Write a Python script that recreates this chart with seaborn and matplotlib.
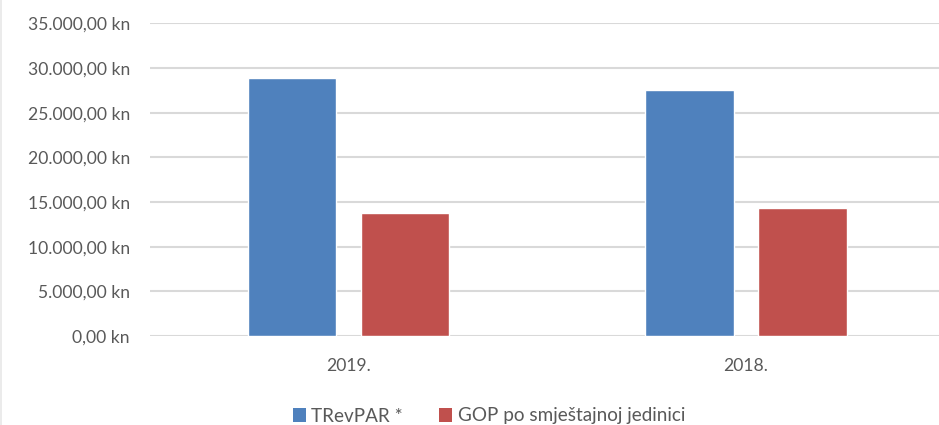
import numpy as np
import pandas as pd
import matplotlib
matplotlib.use("Agg")
import matplotlib.pyplot as plt
from matplotlib.lines import Line2D
from matplotlib.patches import Patch
import seaborn as sns

# chart data
years = ["2019.", "2018."]
series_names = ["TRevPAR *", "GOP po smještajnoj jedinici"]
trevpar = [28930, 27550]
gop = [13810, 14390]
y_ticks = [0, 5000, 10000, 15000, 20000, 25000, 30000, 35000]

colors = ["#4f81bd", "#c0504d"]
TEXT = "#595959"
GRID = "#d9d9d9"

df = pd.DataFrame({
    "year": years * 2,
    "series": [series_names[0]] * 2 + [series_names[1]] * 2,
    "value": trevpar + gop,
})


def kn(v):
    s = f"{v:,.2f}"
    s = s.replace(",", "X").replace(".", ",").replace("X", ".")
    return f"{s} kn"


sns.set_theme(style="white")
plt.rcParams["font.family"] = ["Lato", "DejaVu Sans"]

W, H = 939, 425
fig = plt.figure(figsize=(W / 100, H / 100), dpi=100)
fig.patch.set_facecolor("white")

# plot area in pixels: left 149.75, width 795 (runs slightly past right edge)
y0_px, y35_px = 336, 23.5
ax = fig.add_axes([149.75 / W, (H - y0_px) / H, 795 / W, (y0_px - y35_px) / H])

sns.barplot(
    data=df, x="year", y="value", hue="series", order=years,
    hue_order=series_names, palette=colors, width=0.5686, gap=0.22,
    saturation=1, legend=False, ax=ax,
)

ax.set_ylim(0, 35000)
ax.set_xlim(-0.5, 1.5)
ax.set_yticks(y_ticks)
ax.set_yticklabels([kn(v) for v in y_ticks])
ax.set_xlabel("")
ax.set_ylabel("")
ax.grid(axis="y", color=GRID, linewidth=1.5)
ax.set_axisbelow(True)
for sp in ax.spines.values():
    sp.set_visible(False)
ax.tick_params(axis="both", length=0, labelsize=12.6, colors=TEXT)
ax.tick_params(axis="y", pad=14.4)
ax.tick_params(axis="x", pad=16)
for lbl in ax.get_yticklabels() + ax.get_xticklabels():
    lbl.set_color(TEXT)

handles = [Patch(facecolor=c, edgecolor="none") for c in colors]
fig.legend(
    handles, series_names, loc="center", bbox_to_anchor=(489 / W, 1 - 416 / H),
    ncol=2, frameon=False, fontsize=13.6, labelcolor=TEXT,
    handlelength=0.7, handleheight=0.7, handletextpad=0.3, columnspacing=1.9,
)

# faint chart-area border on the left
fig.add_artist(Line2D([0.7 / W, 0.7 / W], [0, 1], color="#e8e8e8", linewidth=1.2))

fig.savefig("out.png", dpi=100)
